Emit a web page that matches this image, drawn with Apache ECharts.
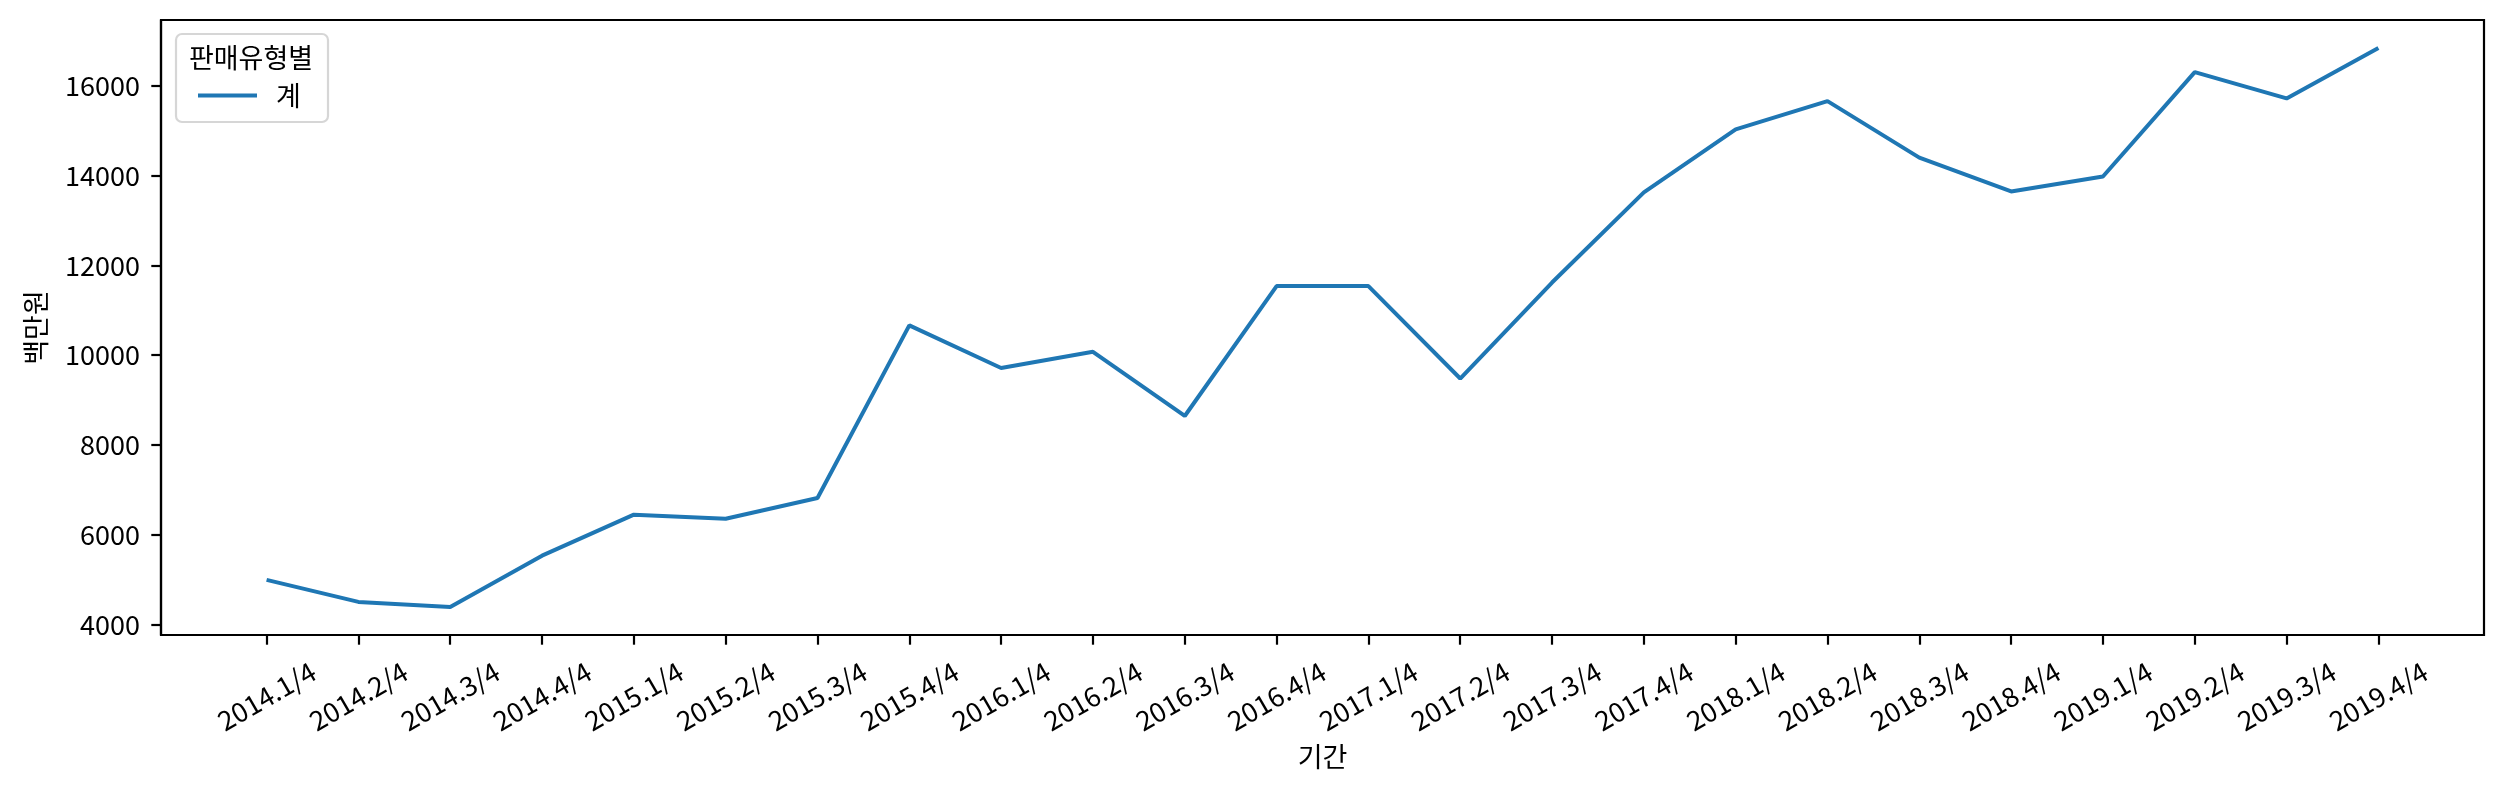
<!DOCTYPE html>
<html>
<head>
<meta charset="utf-8">
<script src="https://cdn.jsdelivr.net/npm/echarts@6/dist/echarts.min.js"></script>
<style>
html,body{margin:0;padding:0;background:#fff;}
#c{width:2506px;height:795px;}
</style>
</head>
<body>
<div id="c"></div>
<script>
const categories = ["2014.1/4","2014.2/4","2014.3/4","2014.4/4","2015.1/4","2015.2/4","2015.3/4","2015.4/4",
  "2016.1/4","2016.2/4","2016.3/4","2016.4/4","2017.1/4","2017.2/4","2017.3/4","2017.4/4",
  "2018.1/4","2018.2/4","2018.3/4","2018.4/4","2019.1/4","2019.2/4","2019.3/4","2019.4/4"];
const seriesName = "계";
const values = [4990, 4500, 4385, 5530, 6445, 6355, 6815, 10665,
  9715, 10075, 8645, 11540, 11540, 9480, 11620, 13630,
  15035, 15665, 14405, 13650, 13985, 16310, 15725, 16850];
const yTicks = [4000, 6000, 8000, 10000, 12000, 14000, 16000];
const legendTitle = "판매유형별";
const xName = "기간";
const yName = "백만원";

const FONT = '"Noto Sans CJK KR", "Noto Sans", sans-serif';
const FS = 27;
const xTicks = categories.map((_, i) => i);
const chart = echarts.init(document.getElementById('c'), null, {renderer: 'canvas'});
chart.setOption({
  animation: false,
  backgroundColor: '#fff',
  textStyle: {fontFamily: FONT},
  grid: {left: 161, right: 22, top: 20, bottom: 160, show: true, borderColor: '#000', borderWidth: 2.2, backgroundColor: 'transparent'},
  xAxis: {
    type: 'value', min: -1.15, max: categories.length - 1 + 1.15,
    name: xName, nameLocation: 'middle', nameGap: 108,
    nameTextStyle: {fontSize: FS, color: '#000', fontFamily: FONT},
    axisLine: {show: true, onZero: false, lineStyle: {color: '#000', width: 2.2}},
    axisTick: {show: true, length: 9.7, lineStyle: {color: '#000', width: 2.2}, customValues: xTicks},
    axisLabel: {
      customValues: xTicks, rotate: 30, align: 'center', verticalAlign: 'middle', margin: 61,
      fontSize: FS, color: '#000', fontFamily: FONT,
      formatter: v => categories[Math.round(v)]
    },
    splitLine: {show: false}
  },
  yAxis: {
    type: 'value', min: 3762, max: 17473,
    name: yName, nameLocation: 'middle', nameGap: 112, nameRotate: 90,
    nameTextStyle: {fontSize: FS, color: '#000', fontFamily: FONT},
    axisLine: {show: true, onZero: false, lineStyle: {color: '#000', width: 2.2}},
    axisTick: {show: true, length: 9.7, lineStyle: {color: '#000', width: 2.2}, customValues: yTicks},
    axisLabel: {customValues: yTicks, margin: 21, fontSize: FS, color: '#000', fontFamily: FONT,
      formatter: v => String(v)},
    splitLine: {show: false}
  },
  legend: {
    show: true, left: 198, top: 82, padding: 0, orient: 'vertical',
    icon: 'rect', itemWidth: 59, itemHeight: 4,
    textStyle: {fontSize: FS, color: '#000', fontFamily: FONT, padding: [0, 0, 0, 14]},
    data: [seriesName]
  },
  graphic: [
    {type: 'rect', z: 0, shape: {x: 176, y: 34, width: 152, height: 88, r: 6},
     style: {fill: 'rgba(255,255,255,0.8)', stroke: '#d6d6d6', lineWidth: 2.2}},
    {type: 'text', z: 1, style: {x: 251, y: 58, text: legendTitle, align: 'center', verticalAlign: 'middle',
      fontSize: FS, fill: '#000', fontFamily: FONT}}
  ],
  series: [{
    name: seriesName, type: 'line', showSymbol: false, symbol: 'none',
    lineStyle: {color: '#1f77b4', width: 4},
    itemStyle: {color: '#1f77b4'},
    data: values.map((v, i) => [i, v])
  }]
});
</script>
</body>
</html>
